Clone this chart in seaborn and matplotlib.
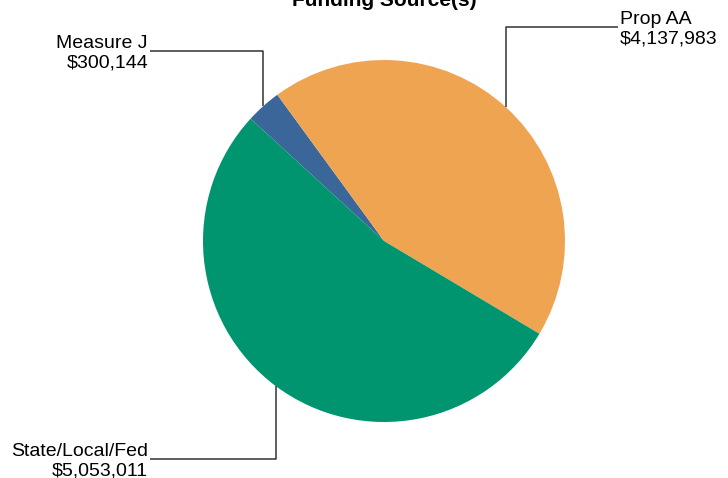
import numpy as np
import matplotlib
matplotlib.use("Agg")
import matplotlib.pyplot as plt
import seaborn as sns

# funding sources (clockwise from the top-left)
sources = ["Measure J", "Prop AA", "State/Local/Fed"]
amounts = [300144, 4137983, 5053011]
colors = ["#3b6699", "#efa452", "#00956f"]

# label anchor (x, y in pixels from top-left) and alignment for each slice
label_pos = [(150, 51, "right"), (618, 27, "left"), (150, 459, "right")]

sns.set_theme(style="white")
plt.rcParams["font.family"] = ["Liberation Sans", "DejaVu Sans"]

W, H = 728, 478
fig = plt.figure(figsize=(W / 100, H / 100), dpi=100)
ax = fig.add_axes([0, 0, 1, 1])

cx, cy, r = 384, H - 241, 181
wedges, _ = ax.pie(amounts, colors=colors, startangle=137.5, counterclock=False,
                   center=(cx, cy), radius=r, frame=True,
                   wedgeprops=dict(linewidth=0))
ax.set_xlim(0, W)
ax.set_ylim(0, H)
ax.axis("off")

for w, name, amt, (lx, ly, ha) in zip(wedges, sources, amounts, label_pos):
    mid = np.deg2rad((w.theta1 + w.theta2) / 2)
    ex = cx + r * np.cos(mid)
    ey = cy + r * np.sin(mid)
    ty = H - ly
    ax.plot([ex, ex, lx], [ey, ty, ty], color="#333333", lw=1.1, solid_capstyle="butt")
    tx = lx - 2 if ha == "right" else lx + 2
    ax.text(tx, ty - 2, f"{name}\n${amt:,}", ha=ha, va="center", fontsize=14,
            color="black", multialignment="right" if ha == "right" else "left")

ax.text(cx, H - 6, "Funding Source(s)", ha="center", va="baseline",
        fontsize=15, fontweight="bold", color="black")

fig.savefig("out.png", dpi=100)
